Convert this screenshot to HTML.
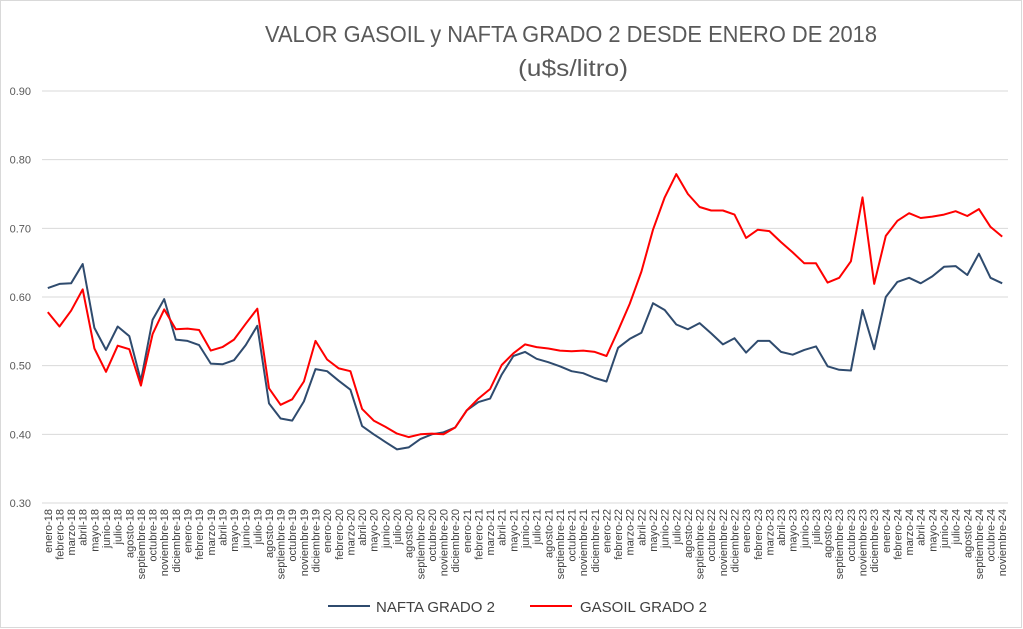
<!DOCTYPE html>
<html><head><meta charset="utf-8">
<style>
html,body{margin:0;padding:0;background:#fff;}
body{width:1023px;height:629px;overflow:hidden;}
svg{display:block;font-family:"Liberation Sans",sans-serif;}
</style></head>
<body>
<svg id="c" width="1023" height="629" xmlns="http://www.w3.org/2000/svg">
<rect x="0.5" y="0.5" width="1021" height="627" fill="#fff" stroke="#d9d9d9"/>
<text x="571" y="42" text-anchor="middle" font-size="23" fill="#595959" textLength="612" lengthAdjust="spacingAndGlyphs">VALOR GASOIL y NAFTA GRADO 2 DESDE ENERO DE 2018</text>
<text x="573" y="76" text-anchor="middle" font-size="23" fill="#595959" textLength="110" lengthAdjust="spacingAndGlyphs">(u$s/litro)</text>
<g id="grid"></g>
<g id="lab"></g>
<polyline id="n" fill="none" stroke="#2f4b6e" stroke-width="2" stroke-linejoin="round"/>
<polyline id="g" fill="none" stroke="#ff0000" stroke-width="2" stroke-linejoin="round"/>
<line x1="328" y1="606" x2="370" y2="606" stroke="#2f4b6e" stroke-width="2"/>
<text x="376" y="612" font-size="15" fill="#404040">NAFTA GRADO 2</text>
<line x1="530" y1="606" x2="572" y2="606" stroke="#ff0000" stroke-width="2"/>
<text x="580" y="612" font-size="15" fill="#404040">GASOIL GRADO 2</text>
</svg>
<script>
var N=[0.613,0.619,0.620,0.648,0.555,0.523,0.557,0.543,0.478,0.567,0.597,0.538,
0.536,0.530,0.503,0.502,0.508,0.530,0.558,0.445,0.423,0.420,0.448,0.495,
0.492,0.478,0.465,0.412,0.400,0.389,0.378,0.381,0.393,0.400,0.403,0.410,
0.435,0.447,0.452,0.487,0.514,0.520,0.510,0.505,0.499,0.492,0.489,0.482,
0.477,0.526,0.539,0.548,0.591,0.581,0.560,0.553,0.562,0.547,0.531,0.540,
0.519,0.536,0.536,0.520,0.516,0.523,0.528,0.499,0.494,0.493,0.581,0.524,
0.600,0.622,0.628,0.620,0.630,0.644,0.645,0.632,0.663,0.628,0.620];
var G=[0.578,0.557,0.580,0.611,0.525,0.491,0.529,0.524,0.471,0.546,0.582,0.553,
0.554,0.552,0.522,0.527,0.538,0.561,0.583,0.467,0.443,0.451,0.477,0.536,
0.509,0.496,0.492,0.437,0.420,0.411,0.401,0.396,0.400,0.401,0.400,0.410,
0.435,0.452,0.466,0.501,0.518,0.531,0.527,0.525,0.522,0.521,0.522,0.520,
0.514,0.551,0.590,0.637,0.698,0.745,0.779,0.750,0.731,0.726,0.726,0.720,
0.686,0.698,0.696,0.680,0.665,0.649,0.649,0.621,0.628,0.652,0.745,0.619,
0.689,0.711,0.722,0.715,0.717,0.720,0.725,0.718,0.728,0.702,0.688];
var M=["enero","febrero","marzo","abril","mayo","junio","julio","agosto","septiembre","octubre","noviembre","diciembre"];
var x0=42,x1=1008,w=(x1-x0)/83;
function X(i){return x0+w*(i+0.5);}
function Y(v){return 503-(v-0.3)*686.7;}
var ns="http://www.w3.org/2000/svg",grid=document.getElementById("grid"),lab=document.getElementById("lab");
for(var k=0;k<=6;k++){var v=0.3+k*0.1,y=Y(v);
var l=document.createElementNS(ns,"line");l.setAttribute("x1",x0);l.setAttribute("x2",x1);l.setAttribute("y1",y);l.setAttribute("y2",y);l.setAttribute("stroke","#d9d9d9");grid.appendChild(l);
var t=document.createElementNS(ns,"text");t.setAttribute("x",31);t.setAttribute("y",y+4);t.setAttribute("text-anchor","end");t.setAttribute("font-size","11");t.setAttribute("fill","#595959");t.textContent=v.toFixed(2);grid.appendChild(t);}
for(var i=0;i<83;i++){var yr=18+Math.floor(i/12),m=M[i%12];
var t=document.createElementNS(ns,"text");var x=X(i)+4;
t.setAttribute("transform","translate("+x+",509) rotate(-90)");t.setAttribute("text-anchor","end");t.setAttribute("font-size","11");t.setAttribute("fill","#404040");t.textContent=m+"-"+yr;lab.appendChild(t);}
function pts(a){return a.map(function(v,i){return X(i).toFixed(1)+","+Y(v).toFixed(1)}).join(" ");}
document.getElementById("n").setAttribute("points",pts(N));
document.getElementById("g").setAttribute("points",pts(G));
</script>
</body></html>
